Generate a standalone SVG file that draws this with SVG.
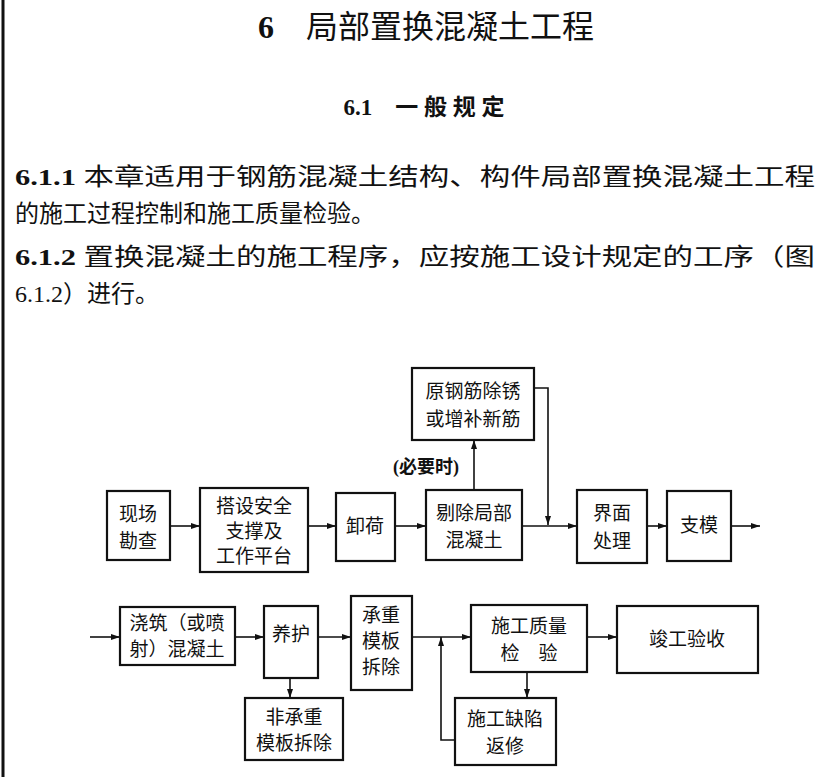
<svg xmlns="http://www.w3.org/2000/svg" width="829" height="777" viewBox="0 0 829 777">
<defs>
<marker id="a" markerWidth="10" markerHeight="8" refX="9" refY="4" orient="auto" markerUnits="userSpaceOnUse"><path d="M0,1 L9,4 L0,7 Z" fill="#111"/></marker>
<style>
.b{fill:#fff;stroke:#111;stroke-width:2.2}
.t{font-family:"Liberation Serif","Noto Sans CJK SC",serif;font-size:19px;fill:#111;text-anchor:middle}
.c{fill:none;stroke:#111;stroke-width:1.6;marker-end:url(#a)}
.p{font-family:"Liberation Serif","Noto Sans CJK SC",serif;font-size:24px;fill:#111}
</style>
</defs>
<rect width="829" height="777" fill="#fff"/>
<line x1="3" y1="0" x2="3" y2="777" stroke="#111" stroke-width="3"/>
<text x="426" y="38" class="p" style="font-size:32px;text-anchor:middle"><tspan font-weight="bold">6</tspan>　局部置换混凝土工程</text>
<text x="424" y="115" class="p" style="font-size:23px;font-weight:bold;text-anchor:middle">6.1　一 般 规 定</text>
<text x="15" y="185" class="p" textLength="800" lengthAdjust="spacingAndGlyphs"><tspan font-weight="bold">6.1.1</tspan>  本章适用于钢筋混凝土结构、构件局部置换混凝土工程</text>
<text x="15" y="222" class="p">的施工过程控制和施工质量检验。</text>
<text x="15" y="265" class="p" textLength="800" lengthAdjust="spacingAndGlyphs"><tspan font-weight="bold">6.1.2</tspan>  置换混凝土的施工程序，应按施工设计规定的工序（图</text>
<text x="15" y="302" class="p">6.1.2）进行。</text>
<g id="connectors">
<path class="c" d="M170,526 H200"/>
<path class="c" d="M308,526 H336"/>
<path class="c" d="M395,526 H426"/>
<path class="c" d="M474,490 V440"/>
<path class="c" d="M522,526 H577"/>
<path class="c" d="M534,388 H548 V525"/>
<path class="c" d="M647,526 H667"/>
<path class="c" d="M731,526 H760"/>
<path class="c" d="M90,637 H120"/>
<path class="c" d="M235,637 H264"/>
<path class="c" d="M318,637 H351"/>
<path class="c" d="M290,678 V698"/>
<path class="c" d="M412,637 H471"/>
<path class="c" d="M455,740 H441 V637"/>
<path class="c" d="M527,672 V698"/>
<path class="c" d="M587,637 H617"/>
</g>
<text x="426" y="473" class="t" style="font-weight:bold;font-size:18px">(必要时)</text>
<g id="n1"><rect class="b" x="107" y="491" width="63" height="69"/><text class="t" x="138" y="521">现场</text><text class="t" x="138" y="548">勘查</text></g>
<g id="n2"><rect class="b" x="200" y="488" width="108" height="84"/><text class="t" x="254" y="513">搭设安全</text><text class="t" x="254" y="538">支撑及</text><text class="t" x="254" y="563">工作平台</text></g>
<g id="n3"><rect class="b" x="336" y="493" width="59" height="68"/><text class="t" x="365" y="533">卸荷</text></g>
<g id="n4"><rect class="b" x="426" y="490" width="96" height="70"/><text class="t" x="474" y="520">剔除局部</text><text class="t" x="474" y="547">混凝土</text></g>
<g id="n5"><rect class="b" x="412" y="368" width="122" height="72"/><text class="t" x="473" y="398">原钢筋除锈</text><text class="t" x="473" y="426">或增补新筋</text></g>
<g id="n6"><rect class="b" x="577" y="490" width="70" height="73"/><text class="t" x="612" y="520">界面</text><text class="t" x="612" y="548">处理</text></g>
<g id="n7"><rect class="b" x="667" y="491" width="64" height="70"/><text class="t" x="699" y="532">支模</text></g>
<g id="n8"><rect class="b" x="120" y="607" width="115" height="58"/><text class="t" x="177" y="630">浇筑（或喷</text><text class="t" x="177" y="656">射）混凝土</text></g>
<g id="n9"><rect class="b" x="264" y="606" width="54" height="72"/><text class="t" x="291" y="641">养护</text></g>
<g id="n10"><rect class="b" x="245" y="698" width="98" height="62"/><text class="t" x="294" y="724">非承重</text><text class="t" x="294" y="750">模板拆除</text></g>
<g id="n11"><rect class="b" x="351" y="596" width="61" height="94"/><text class="t" x="381" y="622">承重</text><text class="t" x="381" y="648">模板</text><text class="t" x="381" y="674">拆除</text></g>
<g id="n12"><rect class="b" x="471" y="605" width="116" height="67"/><text class="t" x="529" y="633">施工质量</text><text class="t" x="529" y="660">检　验</text></g>
<g id="n13"><rect class="b" x="455" y="698" width="101" height="67"/><text class="t" x="505" y="726">施工缺陷</text><text class="t" x="505" y="753">返修</text></g>
<g id="n14"><rect class="b" x="617" y="606" width="141" height="67"/><text class="t" x="687" y="646">竣工验收</text></g>
</svg>
